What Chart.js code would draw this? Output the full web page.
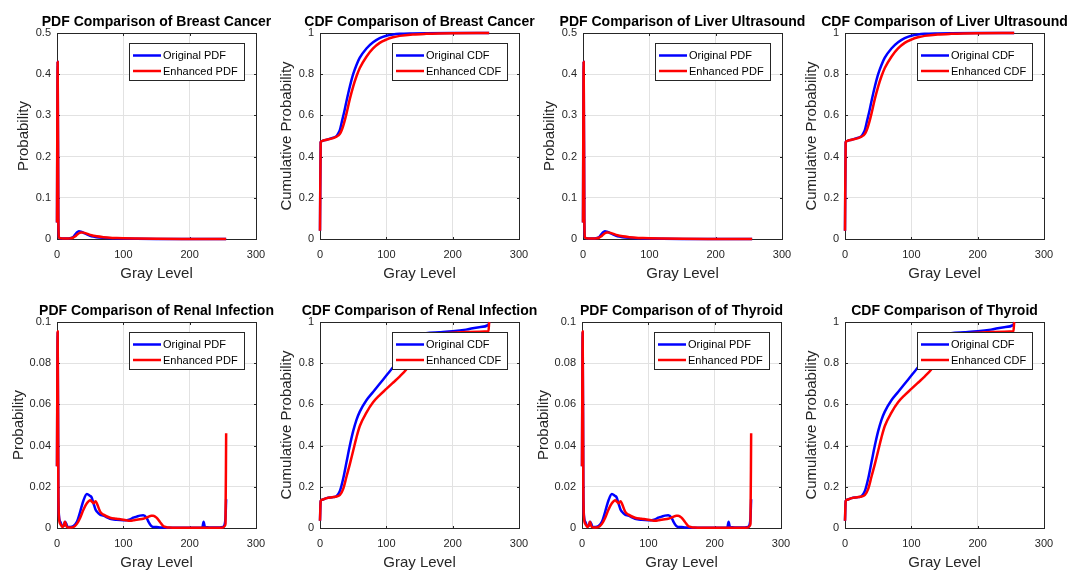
<!DOCTYPE html>
<html>
<head>
<meta charset="utf-8">
<script src="https://cdn.jsdelivr.net/npm/chart.js@4.4.1/dist/chart.umd.min.js"></script>
<style>
html,body{margin:0;padding:0;background:#fff;width:1084px;height:578px;overflow:hidden;position:relative}
canvas{position:absolute}
</style>
</head>
<body>
<script>
// ---------- DATA ----------
// Breast Cancer / Liver Ultrasound (identical-looking panels)
const grayPdfA = [0,1,2,3,5,10,15,20,24,27,30,33,36,40,45,50,55,60,70,80,90,100,120,150,200,255];
const origPdfA = [0.04,0.43,0.05,0.004,0.002,0.001,0.001,0.002,0.004,0.01,0.016,0.019,0.018,0.015,0.011,0.008,0.006,0.0045,0.003,0.002,0.0015,0.001,0.0006,0.0003,0.0001,0];
const enhPdfA  = [0.04,0.43,0.05,0.004,0.002,0.001,0.001,0.0015,0.003,0.006,0.01,0.014,0.016,0.0155,0.013,0.01,0.008,0.0065,0.0045,0.003,0.0022,0.0016,0.001,0.0005,0.0002,0];

const grayCdfA = [0,1,2,5,10,20,25,28,30,33,36,40,45,50,55,60,70,80,90,100,110,120,140,160,200,255];
const origCdfA = [0.04,0.47,0.475,0.478,0.482,0.492,0.5,0.515,0.53,0.57,0.61,0.67,0.74,0.8,0.845,0.88,0.925,0.955,0.975,0.987,0.993,0.996,0.998,0.999,1,1];
const enhCdfA  = [0.04,0.47,0.475,0.478,0.482,0.49,0.497,0.503,0.51,0.53,0.56,0.61,0.68,0.74,0.79,0.83,0.885,0.925,0.952,0.968,0.979,0.986,0.993,0.996,0.999,1];

// Renal Infection / Thyroid (identical-looking panels)
const grayPdfB = [0,1,2,3,5,8,10,12,14,16,20,25,30,35,40,45,50,52,55,58,60,65,70,80,90,100,105,110,115,120,125,130,135,138,142,145,150,155,160,165,170,180,200,219,221,223,240,250,253,254,255];
const origPdfB = [0.03,0.095,0.02,0.006,0.003,0.001,0.001,0.003,0.002,0.0005,0.0005,0.001,0.003,0.008,0.0135,0.0165,0.0155,0.015,0.012,0.009,0.008,0.0065,0.006,0.0045,0.004,0.0038,0.0038,0.0042,0.005,0.0055,0.006,0.0062,0.005,0.003,0.001,0.0005,0.0005,0.0003,0.0002,0.0001,0.0001,0.0001,0.0001,0.0002,0.003,0.0005,0.0002,0.0005,0.002,0.005,0.014];
const enhPdfB  = [0.03,0.0955,0.02,0.005,0.002,0.0005,0.001,0.003,0.001,0.0003,0.0002,0.0005,0.002,0.005,0.009,0.012,0.0135,0.013,0.012,0.013,0.012,0.008,0.0065,0.005,0.0045,0.004,0.0037,0.0035,0.0037,0.004,0.0042,0.0045,0.005,0.0055,0.006,0.006,0.005,0.003,0.001,0.0004,0.0002,0.0001,0.0001,0.0001,0.0001,0.0001,0.0001,0.0002,0.001,0.002,0.046];

const grayCdfB = [0,1,3,10,20,25,30,35,40,45,50,55,60,70,80,90,100,110,120,130,140,160,180,200,220,240,254,255];
const origCdfB = [0.035,0.13,0.137,0.145,0.15,0.155,0.18,0.24,0.32,0.4,0.47,0.525,0.565,0.62,0.66,0.7,0.74,0.78,0.82,0.87,0.92,0.945,0.95,0.955,0.963,0.975,0.986,1.0];
const enhCdfB  = [0.035,0.13,0.137,0.145,0.15,0.153,0.16,0.19,0.25,0.31,0.375,0.44,0.495,0.56,0.61,0.645,0.675,0.705,0.735,0.77,0.82,0.94,0.945,0.948,0.951,0.953,0.955,1.0];

// Axis ticks / labels
const xTickStep = 100, xMax = 300;
const panelTitles = [
  'PDF Comparison of Breast Cancer','CDF Comparison of Breast Cancer',
  'PDF Comparison of Liver Ultrasound','CDF Comparison of Liver Ultrasound',
  'PDF Comparison of Renal Infection','CDF Comparison of Renal Infection',
  'PDF Comparison of of Thyroid','CDF Comparison of Thyroid'
];
const pdfLabels = ['Original PDF','Enhanced PDF'];
const cdfLabels = ['Original CDF','Enhanced CDF'];

// ---------- LAYOUT ----------
const FONT = '"Liberation Sans", Arial, Helvetica, sans-serif';
const AX = '#262626';
const CW = 290, CH = 290, PL = 57, PT = 33, PW = 199, PH = 206, XH = 48;

const panels = [
  {left:0,   top:0,   t:0, kind:'pdf', x:grayPdfA, o:origPdfA, e:enhPdfA, ymax:0.5, step:0.1,  padL:11},
  {left:263, top:0,   t:1, kind:'cdf', x:grayCdfA, o:origCdfA, e:enhCdfA, ymax:1,   step:0.2,  padL:11},
  {left:526, top:0,   t:2, kind:'pdf', x:grayPdfA, o:origPdfA, e:enhPdfA, ymax:0.5, step:0.1,  padL:11},
  {left:788, top:0,   t:3, kind:'cdf', x:grayCdfA, o:origCdfA, e:enhCdfA, ymax:1,   step:0.2,  padL:11},
  {left:0,   top:289, t:4, kind:'pdf', x:grayPdfB, o:origPdfB, e:enhPdfB, ymax:0.1, step:0.02, padL:6},
  {left:263, top:289, t:5, kind:'cdf', x:grayCdfB, o:origCdfB, e:enhCdfB, ymax:1,   step:0.2,  padL:11},
  {left:525, top:289, t:6, kind:'pdf', x:grayPdfB, o:origPdfB, e:enhPdfB, ymax:0.1, step:0.02, padL:6},
  {left:788, top:289, t:7, kind:'cdf', x:grayCdfB, o:origCdfB, e:enhCdfB, ymax:1,   step:0.2,  padL:11}
];

// ---------- PLUGINS ----------
const boxPlugin = {
  id: 'mbox',
  beforeDatasetsDraw(chart) {
    const {ctx, chartArea: a} = chart;
    const L = Math.round(a.left) + 0.5, R = Math.round(a.right) + 0.5;
    const T = Math.round(a.top) + 0.5, B = Math.round(a.bottom) + 0.5;
    ctx.save();
    ctx.strokeStyle = AX; ctx.lineWidth = 1;
    ctx.strokeRect(L, T, R - L, B - T);
    const tl = 2.5;
    ctx.beginPath();
    chart.scales.x.ticks.forEach(t => {
      const px = Math.round(chart.scales.x.getPixelForValue(t.value)) + 0.5;
      ctx.moveTo(px, B); ctx.lineTo(px, B - tl);
      ctx.moveTo(px, T); ctx.lineTo(px, T + tl);
    });
    chart.scales.y.ticks.forEach(t => {
      const py = Math.round(chart.scales.y.getPixelForValue(t.value)) + 0.5;
      ctx.moveTo(L, py); ctx.lineTo(L + tl, py);
      ctx.moveTo(R, py); ctx.lineTo(R - tl, py);
    });
    ctx.stroke();
    ctx.restore();
  }
};

const titlePlugin = {
  id: 'mtitle',
  afterDraw(chart, args, opts) {
    const {ctx, chartArea: a} = chart;
    ctx.save();
    ctx.font = 'bold 14px ' + FONT;
    ctx.fillStyle = '#000';
    ctx.textAlign = 'center';
    ctx.textBaseline = 'alphabetic';
    ctx.fillText(opts.text, (a.left + a.right) / 2, a.top - 7);
    ctx.restore();
  }
};

const legendPlugin = {
  id: 'mlegend',
  afterDatasetsDraw(chart) {
    const {ctx, chartArea: a} = chart;
    const ds = chart.data.datasets;
    ctx.save();
    ctx.font = '11px ' + FONT;
    const tw = Math.max(...ds.map(d => ctx.measureText(d.label).width));
    const w = Math.round(4 + 28 + 2 + tw + 6), h = 37;
    const x = Math.round(a.right - 12 - w), y = Math.round(a.top + 10);
    ctx.fillStyle = '#fff';
    ctx.fillRect(x, y, w, h);
    ctx.strokeStyle = AX; ctx.lineWidth = 1;
    ctx.strokeRect(x + 0.5, y + 0.5, w, h);
    ds.forEach((d, i) => {
      const cy = y + 12.5 + i * 15.5;
      ctx.strokeStyle = d.borderColor; ctx.lineWidth = 2.5;
      ctx.beginPath(); ctx.moveTo(x + 4, cy); ctx.lineTo(x + 32, cy); ctx.stroke();
      ctx.fillStyle = '#000'; ctx.textBaseline = 'middle'; ctx.textAlign = 'left';
      ctx.fillText(d.label, x + 34, cy + 0.5);
    });
    ctx.restore();
  }
};

function pts(xs, ys) { return xs.map((v, i) => ({x: v, y: ys[i]})); }
function fmt(v) { return String(parseFloat(Number(v).toFixed(4))); }

panels.forEach((p) => {
  const cv = document.createElement('canvas');
  cv.width = CW; cv.height = CH;
  cv.style.left = p.left + 'px'; cv.style.top = p.top + 'px';
  cv.style.width = CW + 'px'; cv.style.height = CH + 'px';
  document.body.appendChild(cv);
  const labels = p.kind === 'pdf' ? pdfLabels : cdfLabels;
  const yTitle = p.kind === 'pdf' ? 'Probability' : 'Cumulative Probability';
  const common = {borderWidth: 2.5, pointRadius: 0, fill: false, clip: false, cubicInterpolationMode: 'monotone', borderJoinStyle: 'round'};
  new Chart(cv, {
    type: 'line',
    data: {
      datasets: [
        Object.assign({label: labels[0], data: pts(p.x, p.o), borderColor: '#0000ff', order: 2}, common),
        Object.assign({label: labels[1], data: pts(p.x, p.e), borderColor: '#ff0000', order: 1}, common)
      ]
    },
    options: {
      responsive: false,
      animation: false,
      devicePixelRatio: 1,
      layout: {padding: {left: p.padL, top: PT, right: CW - PL - PW, bottom: CH - PT - PH - XH}},
      plugins: {
        legend: {display: false},
        title: {display: false},
        tooltip: {enabled: false},
        mtitle: {text: panelTitles[p.t]}
      },
      scales: {
        x: {
          type: 'linear', min: 0, max: xMax,
          ticks: {stepSize: xTickStep, color: AX, font: {family: FONT, size: 11}, padding: 9, callback: fmt, maxRotation: 0},
          grid: {color: '#e2e2e2', drawTicks: false, lineWidth: 1},
          border: {display: false},
          title: {display: true, text: 'Gray Level', color: AX, font: {family: FONT, size: 15}, padding: {top: 4, bottom: 4}},
          afterFit(s) { s.height = XH; }
        },
        y: {
          type: 'linear', min: 0, max: p.ymax,
          ticks: {stepSize: p.step, color: AX, font: {family: FONT, size: 11}, padding: 6, callback: fmt},
          grid: {color: '#e2e2e2', drawTicks: false, lineWidth: 1},
          border: {display: false},
          title: {display: true, text: yTitle, color: AX, font: {family: FONT, size: 15}, padding: {top: 4, bottom: 4}},
          afterFit(s) { s.width = PL - p.padL; }
        }
      }
    },
    plugins: [boxPlugin, titlePlugin, legendPlugin]
  });
});
</script>
</body>
</html>
